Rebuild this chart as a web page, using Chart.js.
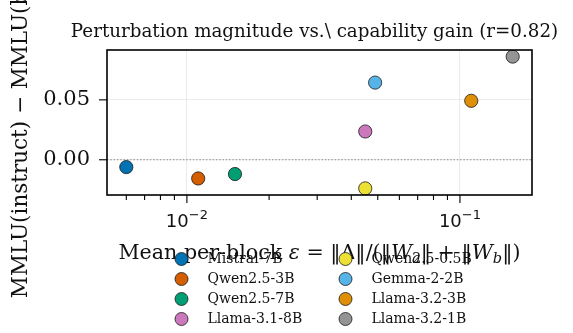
<!DOCTYPE html>
<html lang="en">
<head>
<meta charset="UTF-8">
<title>Perturbation magnitude vs. capability gain</title>
<script src="https://cdn.jsdelivr.net/npm/chart.js@4.4.0/dist/chart.umd.min.js"></script>
<style>
  html, body { margin: 0; padding: 0; background: #fff; }
  #wrap { width: 573px; height: 333px; position: relative; }
</style>
</head>
<body>
<div id="wrap"><canvas id="chart"></canvas></div>
<script>
// data
const models = ['Mistral-7B', 'Qwen2.5-3B', 'Qwen2.5-7B', 'Llama-3.1-8B', 'Qwen2.5-0.5B', 'Gemma-2-2B', 'Llama-3.2-3B', 'Llama-3.2-1B'];
const epsilon = [0.0060, 0.0110, 0.0150, 0.0450, 0.0450, 0.0489, 0.110, 0.156];
const mmluGain = [-0.0061, -0.0156, -0.0119, 0.0236, -0.0239, 0.0644, 0.0492, 0.0861];
const xTicks = [0.006, 0.007, 0.008, 0.009, 0.01, 0.02, 0.03, 0.04, 0.05, 0.06, 0.07, 0.08, 0.09, 0.1];
const xMajor = [0.01, 0.1];
const yTicks = [0, 0.05];

const colors = ['#0173b2', '#d55e00', '#029e73', '#cc78bc', '#ece133', '#56b4e9', '#de8f05', '#949494'];
const SERIF = '"DejaVu Serif", serif';
const SANS = '"DejaVu Sans", sans-serif';

// matplotlib style 5% margins
function logLimits(v, m) {
    const lo = Math.log10(Math.min(...v)), hi = Math.log10(Math.max(...v));
    const d = (hi - lo) * m;
    return [Math.pow(10, lo - d), Math.pow(10, hi + d)];
}
function linLimits(v, m) {
    const lo = Math.min(...v), hi = Math.max(...v);
    const d = (hi - lo) * m;
    return [lo - d, hi + d];
}
const [xMin, xMax] = logLimits(epsilon, 0.05);
const [yMin, yMax] = linLimits(mmluGain, 0.05);

const datasets = models.map((name, i) => ({
    label: name,
    data: [{ x: epsilon[i], y: mmluGain[i] }],
    backgroundColor: colors[i],
    borderColor: '#1a1a1a',
    borderWidth: 0.8,
    pointRadius: 6.6,
    pointHoverRadius: 6.6
}));

function drawRich(ctx, parts, cx, y) {
    let total = 0;
    parts.forEach(p => { ctx.font = p.font; p.w = ctx.measureText(p.t).width; total += p.w; });
    let x = cx - total / 2;
    parts.forEach(p => { ctx.font = p.font; ctx.fillText(p.t, x, y + (p.dy || 0)); x += p.w; });
}

const decor = {
    id: 'decor',
    beforeDatasetsDraw(chart) {
        const { ctx, chartArea: a, scales: { y } } = chart;
        const y0 = y.getPixelForValue(0);
        ctx.save();
        ctx.strokeStyle = '#8a8a8a';
        ctx.lineWidth = 1;
        ctx.setLineDash([1.5, 1.8]);
        ctx.beginPath();
        ctx.moveTo(a.left, y0);
        ctx.lineTo(a.right, y0);
        ctx.stroke();
        ctx.restore();
    },
    afterDatasetsDraw(chart) {
        const { ctx, chartArea: a, scales: { x, y } } = chart;
        ctx.save();
        ctx.strokeStyle = '#000';
        ctx.lineWidth = 1.1;
        x.ticks.forEach(t => {
            const px = x.getPixelForValue(t.value);
            const len = xMajor.includes(t.value) ? 8 : 5;
            ctx.beginPath();
            ctx.moveTo(px, a.bottom);
            ctx.lineTo(px, a.bottom + len);
            ctx.stroke();
        });
        y.ticks.forEach(t => {
            const py = y.getPixelForValue(t.value);
            ctx.beginPath();
            ctx.moveTo(a.left, py);
            ctx.lineTo(a.left - 8, py);
            ctx.stroke();
        });
        ctx.lineWidth = 1.6;
        ctx.strokeRect(a.left, a.top, a.right - a.left, a.bottom - a.top);
        ctx.restore();
    },
    afterDraw(chart) {
        const { ctx, chartArea: a, scales: { x } } = chart;
        const cx = (a.left + a.right) / 2;
        ctx.save();
        ctx.fillStyle = '#111';
        ctx.textBaseline = 'alphabetic';
        ctx.textAlign = 'center';
        ctx.font = '18.3px ' + SERIF;
        ctx.fillText('Perturbation magnitude vs.\\ capability gain (r=0.82)', cx - 5, a.top - 13.5);

        // x tick labels as 10 with a raised exponent
        ctx.textAlign = 'left';
        xMajor.forEach(v => {
            const px = x.getPixelForValue(v);
            const exp = '−' + Math.abs(Math.round(Math.log10(v)));
            drawRich(ctx, [
                { t: '10', font: '18px ' + SANS },
                { t: exp, font: '13px ' + SANS, dy: -8 }
            ], px, a.bottom + 32);
        });

        // x axis label with italic math parts
        const n = '20.6px ' + SERIF, it = 'italic 20.6px ' + SERIF, sub = 'italic 14.5px ' + SERIF;
        drawRich(ctx, [
            { t: 'Mean per-block ', font: n },
            { t: 'ε', font: it },
            { t: ' = ‖Δ‖/(‖', font: n },
            { t: 'W', font: it },
            { t: 'a', font: sub, dy: 4 },
            { t: '‖ + ‖', font: n },
            { t: 'W', font: it },
            { t: 'b', font: sub, dy: 4 },
            { t: '‖)', font: n }
        ], cx, a.bottom + 64);

        // legend, two columns filled top to bottom
        ctx.font = '14px ' + SERIF;
        ctx.textBaseline = 'middle';
        models.forEach((name, i) => {
            const col = Math.floor(i / 4), row = i % 4;
            const mx = cx - 138 + col * 164;
            const my = a.bottom + 64 + row * 20;
            ctx.beginPath();
            ctx.arc(mx, my, 6.5, 0, Math.PI * 2);
            ctx.fillStyle = colors[i];
            ctx.fill();
            ctx.strokeStyle = '#1a1a1a';
            ctx.lineWidth = 0.8;
            ctx.stroke();
            ctx.fillStyle = '#111';
            ctx.fillText(name, mx + 26, my);
        });
        ctx.restore();
    }
};

new Chart(document.getElementById('chart'), {
    type: 'scatter',
    data: { datasets },
    options: {
        responsive: true,
        maintainAspectRatio: false,
        animation: false,
        layout: { padding: { top: 50, right: 41, bottom: 0, left: 0 } },
        plugins: {
            legend: { display: false },
            title: { display: false },
            tooltip: { enabled: false }
        },
        scales: {
            x: {
                type: 'logarithmic',
                min: xMin,
                max: xMax,
                afterBuildTicks: s => { s.ticks = xTicks.map(v => ({ value: v })); },
                afterFit: s => { s.height = 138; },
                border: { display: false },
                grid: {
                    drawTicks: false,
                    lineWidth: 0.8,
                    color: c => (c.tick && xMajor.includes(c.tick.value)) ? '#e6e6e6' : 'rgba(0,0,0,0)'
                },
                ticks: { display: false }
            },
            y: {
                min: yMin,
                max: yMax,
                afterBuildTicks: s => { s.ticks = yTicks.map(v => ({ value: v })); },
                afterFit: s => { s.width = 107; },
                border: { display: false },
                grid: { drawTicks: false, lineWidth: 0.8, color: '#e6e6e6' },
                ticks: {
                    padding: 17,
                    color: '#111',
                    font: { family: SERIF, size: 21 },
                    callback: v => v.toFixed(2)
                },
                title: {
                    display: true,
                    text: 'MMLU(instruct) − MMLU(base)',
                    color: '#111',
                    font: { family: SERIF, size: 21.5 },
                    padding: { top: 9, bottom: 0 }
                }
            }
        }
    },
    plugins: [decor]
});
</script>
</body>
</html>
